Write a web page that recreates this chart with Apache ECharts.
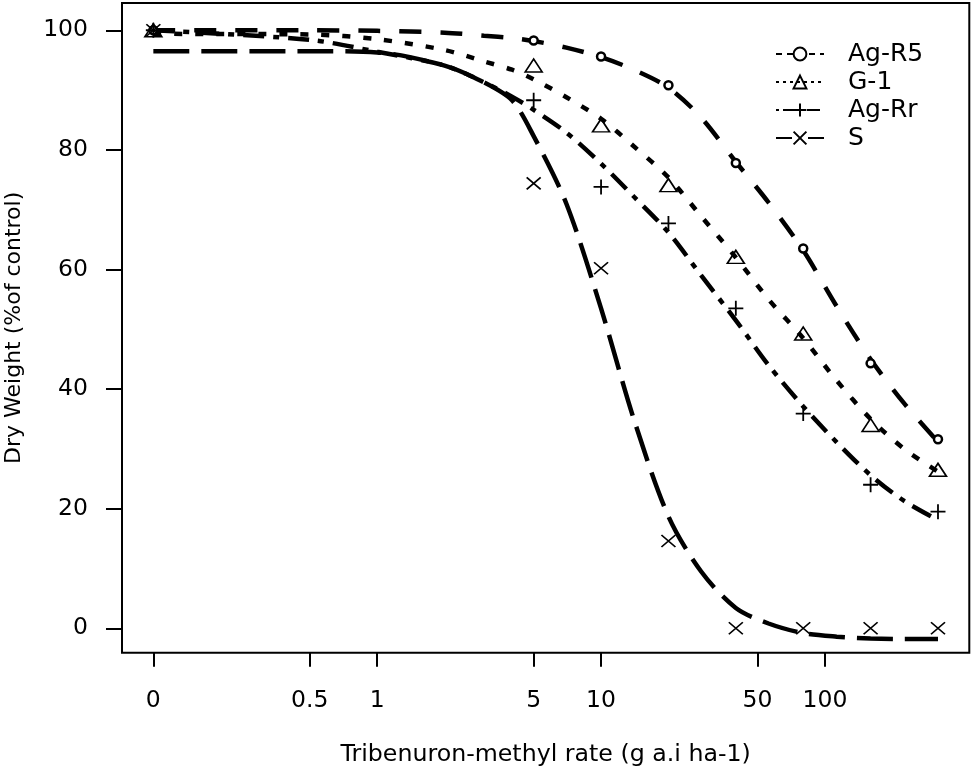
<!DOCTYPE html>
<html>
<head>
<meta charset="utf-8">
<script src="https://cdn.jsdelivr.net/npm/echarts@6/dist/echarts.min.js"></script>
<style>
  html, body { margin: 0; padding: 0; background: #fff; }
  #main { width: 975px; height: 771px; }
</style>
</head>
<body>
<div id="main"></div>
<script>
// observed doses (g a.i ha-1) and dry weight (% of control)
var doses = [0, 5, 10, 20, 40, 80, 160, 320];
var agR5Obs = [100, 98.3, 95.6, 90.8, 77.8, 63.5, 44.3, 31.6];
var g1Obs = [100, 94.1, 84.1, 74.1, 62.1, 49.3, 34.0, 26.5];
var agRrObs = [100, 88.3, 73.8, 67.7, 53.5, 35.9, 24.0, 19.5];
var sObs = [100, 74.4, 60.2, 14.6, 0, 0, 0, 0];

// fitted curves at these doses
var curveDoses = [0, 0.5, 1, 2, 3, 4, 5, 7, 10, 14, 20, 28, 40, 56, 80, 113, 160, 226, 320];
var agR5Fit = [100, 100, 99.9, 99.6, 99.1, 98.7, 98.2, 97.1, 95.5, 93.4, 90.4, 85.4, 78.0, 71.2, 63.2, 53.8, 45.0, 37.6, 31.2];
var g1Fit = [99.4, 99.3, 98.5, 96.7, 94.8, 93.4, 91.8, 88.8, 85.2, 80.6, 75.4, 68.9, 62.0, 55.0, 48.5, 41.4, 35.0, 30.0, 26.2];
var agRrFit = [100, 98.4, 96.4, 94.1, 91.3, 88.9, 86.7, 82.9, 77.7, 72.2, 66.2, 59.0, 51.5, 44.0, 37.1, 31.1, 25.6, 21.3, 18.1];
var sFit = [96.5, 96.5, 96.3, 94.1, 91.3, 88.3, 82.3, 71.0, 53.5, 35.0, 18.7, 9.5, 3.4, 0.8, -0.8, -1.4, -1.7, -1.8, -1.8];

// x axis tick labels
var xTickDoses = [0, 0.5, 1, 5, 10, 50, 100];
var xTickLabels = ['0', '0.5', '1', '5', '10', '50', '100'];
var yTicks = [0, 20, 40, 60, 80, 100];

var names = ['Ag-R5', 'G-1', 'Ag-Rr', 'S'];

// log10 dose axis, zero dose drawn at the axis break (0.1)
var ZERO_POS = -1;
function xPos(d) { return d === 0 ? ZERO_POS : Math.log10(d); }
function pairs(xs, ys) { return xs.map(function (d, i) { return [xPos(d), ys[i]]; }); }

var xTickPos = xTickDoses.map(xPos);
var FONT = 'DejaVu Sans';

var PLUS = 'path://M10,0L10,20M0,10L20,10';
var CROSS = 'path://M0,0L20,20M20,0L0,20';

var styles = [
  { fit: agR5Fit, obs: agR5Obs, dash: [22, 19], legDash: [6, 5], symbol: 'circle', size: 8, fill: '#fff', bw: 2.5 },
  { fit: g1Fit, obs: g1Obs, dash: [8, 13], legDash: [3, 4], symbol: 'triangle', size: [17, 13], fill: 'rgba(0,0,0,0)', bw: 1.6 },
  { fit: agRrFit, obs: agRrObs, dash: [21, 9, 6, 9], legDash: [3, 4, 13, 4], symbol: PLUS, size: 15, fill: 'rgba(0,0,0,0)', bw: 1.8 },
  { fit: sFit, obs: sObs, dash: [36, 12], legDash: [16, 16], symbol: CROSS, size: [14, 12], fill: 'rgba(0,0,0,0)', bw: 1.6 }
];

var series = [];
styles.forEach(function (s, i) {
  series.push({
    name: names[i],
    type: 'line',
    data: pairs(curveDoses, s.fit),
    smooth: 0.3,
    showSymbol: false,
    symbol: s.symbol,
    itemStyle: { color: s.fill, borderColor: '#000', borderWidth: s.bw },
    lineStyle: { color: '#000', width: 4.5, type: s.dash },
    z: 2
  });
});
styles.forEach(function (s, i) {
  series.push({
    name: names[i],
    type: 'scatter',
    data: pairs(doses, s.obs),
    symbol: s.symbol,
    symbolSize: s.size,
    itemStyle: { color: s.fill, borderColor: '#000', borderWidth: s.bw, opacity: 1 },
    z: 3
  });
});

var chart = echarts.init(document.getElementById('main'));
chart.setOption({
  animation: false,
  backgroundColor: '#fff',
  grid: {
    show: true, left: 122, right: 5.7, top: 3, bottom: 118.3,
    containLabel: false, outerBoundsMode: 'none',
    borderColor: '#000', borderWidth: 2, backgroundColor: 'transparent'
  },
  legend: {
    orient: 'vertical',
    left: 775, top: 40, padding: 0,
    itemWidth: 48, itemHeight: 16, itemGap: 0,
    textStyle: { color: '#000', fontFamily: FONT, fontSize: 25, lineHeight: 28, padding: [0, 0, 0, 19] },
    data: names.map(function (n, i) {
      return { name: n, lineStyle: { width: 2, type: styles[i].legDash } };
    })
  },
  xAxis: {
    type: 'value',
    min: -1.14, max: 2.645,
    name: 'Tribenuron-methyl rate (g a.i ha-1)',
    nameLocation: 'middle', nameGap: 90,
    nameTextStyle: { color: '#000', fontFamily: FONT, fontSize: 23.7 },
    axisLine: { show: false, onZero: false },
    axisTick: { show: true, length: 14, lineStyle: { color: '#000', width: 2 }, customValues: xTickPos },
    axisLabel: {
      color: '#000', fontFamily: FONT, fontSize: 23.5, margin: 36,
      customValues: xTickPos,
      formatter: function (v) {
        for (var i = 0; i < xTickPos.length; i++) {
          if (Math.abs(xTickPos[i] - v) < 1e-6) return xTickLabels[i];
        }
        return '';
      }
    },
    splitLine: { show: false }
  },
  yAxis: {
    type: 'value',
    min: -4.08, max: 104.56,
    name: 'Dry Weight (%of control)',
    nameLocation: 'middle', nameGap: 97, nameRotate: 90,
    nameTextStyle: { color: '#000', fontFamily: FONT, fontSize: 22 },
    axisLine: { show: false, onZero: false },
    axisTick: { show: true, length: 16, lineStyle: { color: '#000', width: 2 }, customValues: yTicks },
    axisLabel: { color: '#000', fontFamily: FONT, fontSize: 23.5, margin: 34, customValues: yTicks },
    splitLine: { show: false }
  },
  series: series
});
</script>
</body>
</html>
